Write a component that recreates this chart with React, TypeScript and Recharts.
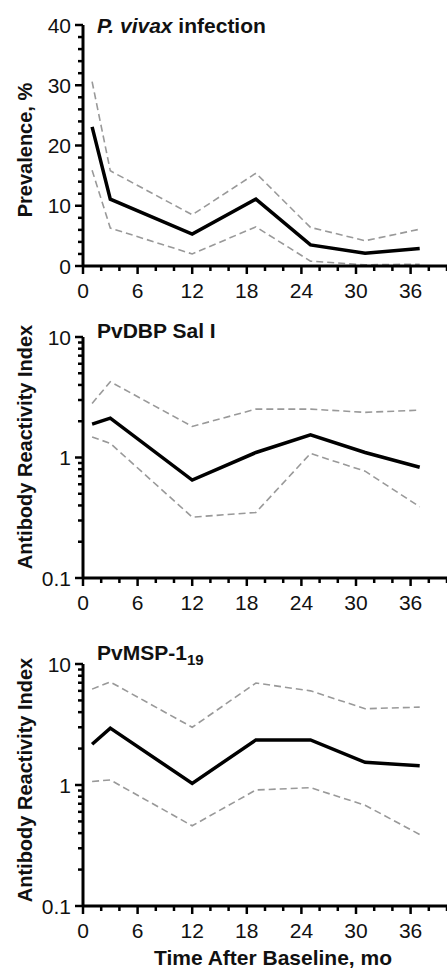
import React from "react";
import { Line, LineChart, XAxis, YAxis } from "recharts";

// months after baseline for each survey
const months = [1, 3, 12, 19, 25, 31, 37];

// P. vivax prevalence, %
const prevMean = [23.1, 11.1, 5.3, 11.1, 3.5, 2.1, 2.9];
const prevUpper = [30.6, 15.8, 8.5, 15.4, 6.4, 4.2, 6.1];
const prevLower = [15.9, 6.3, 2.0, 6.5, 0.8, 0.2, 0.3];

// PvDBP Sal I antibody reactivity index
const dbpMean = [1.89, 2.12, 0.65, 1.1, 1.54, 1.1, 0.83];
const dbpUpper = [2.81, 4.25, 1.81, 2.52, 2.52, 2.37, 2.47];
const dbpLower = [1.48, 1.31, 0.32, 0.35, 1.08, 0.77, 0.39];

// PvMSP-1 19 antibody reactivity index
const mspMean = [2.17, 2.95, 1.03, 2.36, 2.36, 1.54, 1.44];
const mspUpper = [6.2, 7.1, 3.0, 6.96, 6.0, 4.27, 4.4];
const mspLower = [1.07, 1.1, 0.46, 0.91, 0.95, 0.68, 0.39];

const xTicks = [0, 2, 4, 6, 8, 10, 12, 14, 16, 18, 20, 22, 24, 26, 28, 30, 32, 34, 36, 38, 40];
const prevTicks = [0, 2, 4, 6, 8, 10, 12, 14, 16, 18, 20, 22, 24, 26, 28, 30, 32, 34, 36, 38, 40];
const logTicks = [0.1, 0.2, 0.3, 0.4, 0.5, 0.6, 0.7, 0.8, 0.9, 1, 2, 3, 4, 5, 6, 7, 8, 9, 10];
const logMajor = [0.1, 1, 10];

const font = '"Liberation Sans", Arial, Helvetica, sans-serif';

function rows(mean: number[], hi: number[], lo: number[]) {
  return months.map((m, i) => ({ m, mean: mean[i], hi: hi[i], lo: lo[i] }));
}

const XTick = (props: any) => {
  const { x, y, payload } = props;
  const major = payload.value % 6 === 0;
  return (
    <g>
      <line x1={x} x2={x} y1={y} y2={y + (major ? 8 : 5)} stroke="#000" strokeWidth={2.5} />
      {major && (
        <text x={x} y={y + 32} textAnchor="middle" fontSize={21} fill="#111">
          {payload.value}
        </text>
      )}
    </g>
  );
};

const LinTick = (props: any) => {
  const { x, y, payload } = props;
  const major = payload.value % 10 === 0;
  return (
    <g>
      <line x1={x} x2={x - (major ? 8 : 5)} y1={y} y2={y} stroke="#000" strokeWidth={2.5} />
      {major && (
        <text x={x - 12} y={y} dy="0.36em" textAnchor="end" fontSize={21} fill="#111">
          {payload.value}
        </text>
      )}
    </g>
  );
};

const LogTick = (props: any) => {
  const { x, y, payload } = props;
  const major = logMajor.includes(payload.value);
  return (
    <g>
      <line x1={x} x2={x - (major ? 8 : 5)} y1={y} y2={y} stroke="#000" strokeWidth={2.5} />
      {major && (
        <text x={x - 12} y={y} dy="0.36em" textAnchor="end" fontSize={21} fill="#111">
          {payload.value}
        </text>
      )}
    </g>
  );
};

function Panel({ top, height, marginTop, xHeight, data, log }: any) {
  return (
    <div style={{ position: "absolute", left: 0, top, width: 447, height }}>
      <LineChart width={447} height={height} data={data} margin={{ top: marginTop, right: 0, bottom: 0, left: 0 }}>
        <XAxis
          type="number"
          dataKey="m"
          domain={[0, 40]}
          ticks={xTicks}
          interval={0}
          tickSize={0}
          tickMargin={0}
          tick={<XTick />}
          height={xHeight}
          axisLine={{ stroke: "#000", strokeWidth: 3 }}
        />
        {log ? (
          <YAxis
            type="number"
            scale="log"
            domain={[0.1, 10]}
            ticks={logTicks}
            interval={0}
            tickSize={0}
            tickMargin={0}
            tick={<LogTick />}
            width={83}
            axisLine={{ stroke: "#000", strokeWidth: 3 }}
          />
        ) : (
          <YAxis
            type="number"
            domain={[0, 40]}
            ticks={prevTicks}
            interval={0}
            tickSize={0}
            tickMargin={0}
            tick={<LinTick />}
            width={83}
            axisLine={{ stroke: "#000", strokeWidth: 3 }}
          />
        )}
        <Line dataKey="hi" stroke="#999" strokeWidth={1.6} strokeDasharray="7 4" dot={false} isAnimationActive={false} />
        <Line dataKey="lo" stroke="#999" strokeWidth={1.6} strokeDasharray="7 4" dot={false} isAnimationActive={false} />
        <Line dataKey="mean" stroke="#000" strokeWidth={3.5} dot={false} isAnimationActive={false} />
      </LineChart>
    </div>
  );
}

const titleStyle: React.CSSProperties = {
  position: "absolute",
  left: 97,
  fontSize: 21,
  lineHeight: "21px",
  fontWeight: "bold",
  color: "#111",
  whiteSpace: "nowrap",
};

function RotLabel({ x, y, text }: { x: number; y: number; text: string }) {
  return (
    <text x={x} y={y} transform={`rotate(-90, ${x}, ${y})`} textAnchor="middle" fontSize={20} fontWeight="bold" fill="#111">
      {text}
    </text>
  );
}

export default function App() {
  return (
    <div style={{ position: "absolute", left: 0, top: 0, width: 447, height: 970, background: "#fff", fontFamily: font }}>
      {/* titles and axis labels go underneath the charts */}
      <svg width={447} height={970} style={{ position: "absolute", left: 0, top: 0, pointerEvents: "none" }}>
        <RotLabel x={32} y={150} text="Prevalence, %" />
        <RotLabel x={32} y={447} text="Antibody Reactivity Index" />
        <RotLabel x={32} y={780} text="Antibody Reactivity Index" />
        <text x={273} y={965} textAnchor="middle" fontSize={21} fontWeight="bold" fill="#111">
          Time After Baseline, mo
        </text>
      </svg>
      <div style={{ ...titleStyle, top: 15 }}>
        <i>P. vivax</i> infection
      </div>
      <div style={{ ...titleStyle, top: 320 }}>PvDBP Sal I</div>
      <div style={{ ...titleStyle, top: 642 }}>
        PvMSP-1<sub style={{ fontSize: 15, verticalAlign: "-5px", lineHeight: 0 }}>19</sub>
      </div>
      <Panel top={0} height={310} marginTop={25} xHeight={44} data={rows(prevMean, prevUpper, prevLower)} />
      <Panel top={310} height={320} marginTop={27} xHeight={52} data={rows(dbpMean, dbpUpper, dbpLower)} log />
      <Panel top={640} height={330} marginTop={24} xHeight={64} data={rows(mspMean, mspUpper, mspLower)} log />
    </div>
  );
}
